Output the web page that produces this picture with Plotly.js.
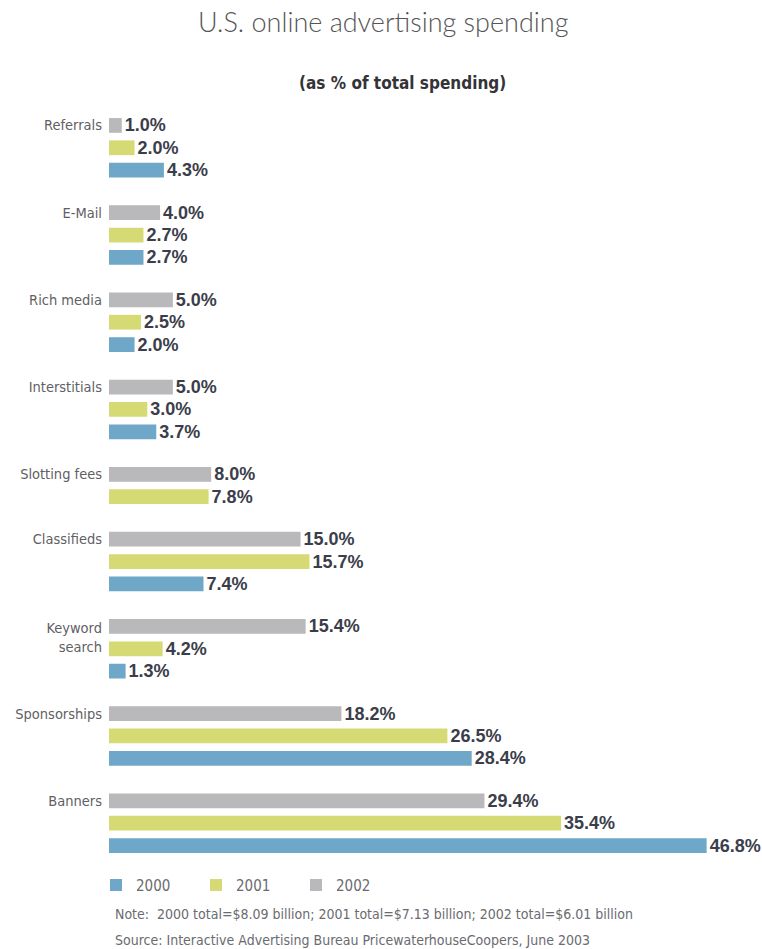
<!DOCTYPE html>
<html>
<head>
<meta charset="utf-8">
<script src="https://cdn.plot.ly/plotly-3.0.1.min.js"></script>
<style>html,body{margin:0;padding:0;background:#fff;}#chart{width:762px;height:949px;}</style>
</head>
<body>
<div id="chart"></div>
<script>
// ---- data ----
const categories = ['Referrals','E-Mail','Rich media','Interstitials','Slotting fees','Classifieds','Keyword<br>search','Sponsorships','Banners'];
const years = ['2002','2001','2000'];            // top-to-bottom order inside each group
const values2002 = [1.0, 4.0, 5.0, 5.0, 8.0, 15.0, 15.4, 18.2, 29.4];
const values2001 = [2.0, 2.7, 2.5, 3.0, 7.8, 15.7, 4.2, 26.5, 35.4];
const values2000 = [4.3, 2.7, 2.0, 3.7, null, 7.4, 1.3, 28.4, 46.8];
const noteText = 'Note:  2000 total=$8.09 billion; 2001 total=$7.13 billion; 2002 total=$6.01 billion';
const sourceText = 'Source: Interactive Advertising Bureau PricewaterhouseCoopers, June 2003';

// ---- layout of rows (missing bars take no row) ----
const series = {'2002': values2002, '2001': values2001, '2000': values2000};
const colors = {'2000': '#6ea7c7', '2001': '#d6da74', '2002': '#b9b9bb'};
const GROUP_GAP = 0.9;
const rowPos = {'2002': [], '2001': [], '2000': []};
const tickvals = [];
let row = 0;
categories.forEach((c, i) => {
  const start = row;
  years.forEach(y => {
    const v = series[y][i];
    if (v !== null && v !== undefined) { rowPos[y][i] = row; row += 1; }
    else rowPos[y][i] = null;
  });
  const nLines = c.split('<br>').length;
  tickvals.push(start + (nLines - 1) / 2);
  row += GROUP_GAP;
});

const narrow = 'Liberation Sans Narrow, Arial Narrow, DejaVu Sans Condensed, sans-serif';
const valueFont = {family: 'Liberation Sans Narrow, Arial Narrow, sans-serif', size: 18, color: '#3b3e4a', weight: 700};

const traces = ['2000','2001','2002'].map(y => {
  const xs = [], ys = [];
  series[y].forEach((v, i) => { if (v !== null) { xs.push(v); ys.push(rowPos[y][i]); } });
  return {
    type: 'bar', orientation: 'h', name: y,
    x: xs, y: ys, width: 0.66,
    marker: {color: colors[y], line: {width: 0}},
    text: xs.map(v => v.toFixed(1) + '%'),
    textposition: 'outside', textfont: valueFont,
    constraintext: 'none', cliponaxis: false,
    hoverinfo: 'skip'
  };
});

const layout = {
  width: 762, height: 949,
  paper_bgcolor: '#ffffff', plot_bgcolor: '#ffffff',
  margin: {l: 109, r: 3, t: 112, b: 90},
  barmode: 'overlay',
  title: {
    text: 'U.S. online advertising spending',
    font: {family: 'Lato, Open Sans, sans-serif', size: 27, color: '#555555', weight: 300},
    x: 0.503, xref: 'container', xanchor: 'center',
    y: 1 - 23/949, yref: 'container', yanchor: 'middle'
  },
  xaxis: {range: [0, 50.9], showgrid: false, zeroline: false, showline: false, showticklabels: false, ticks: '', fixedrange: true},
  yaxis: {
    range: [32.8, -0.6], tickmode: 'array', tickvals: tickvals, ticktext: categories,
    showgrid: false, zeroline: false, showline: false, ticks: '',
    ticklabelstandoff: 6,
    tickfont: {family: narrow, size: 14.5, color: '#5f6064'}, fixedrange: true
  },
  showlegend: true,
  legend: {
    orientation: 'h', x: -0.02, xanchor: 'left', y: -0.035, yanchor: 'middle',
    entrywidth: 55, entrywidthmode: 'pixels', itemwidth: 30, traceorder: 'normal',
    font: {family: narrow, size: 15, color: '#6a6b70'}, bgcolor: 'rgba(0,0,0,0)'
  },
  annotations: [
    {text: '(as % of total spending)', xref: 'paper', yref: 'paper', x: 0.452, y: 1 + 29/747,
     xanchor: 'center', yanchor: 'middle', showarrow: false,
     font: {family: narrow, size: 17, color: '#333338', weight: 700}},
    {text: noteText, xref: 'paper', yref: 'paper', x: 0.006, y: -55/747,
     xanchor: 'left', yanchor: 'middle', showarrow: false,
     font: {family: narrow, size: 14, color: '#6a6b70'}},
    {text: sourceText, xref: 'paper', yref: 'paper', x: 0.006, y: -81/747,
     xanchor: 'left', yanchor: 'middle', showarrow: false,
     font: {family: narrow, size: 14, color: '#6a6b70'}}
  ],
  hovermode: false
};

Plotly.newPlot('chart', traces, layout, {displayModeBar: false, staticPlot: true});
</script>
</body>
</html>
